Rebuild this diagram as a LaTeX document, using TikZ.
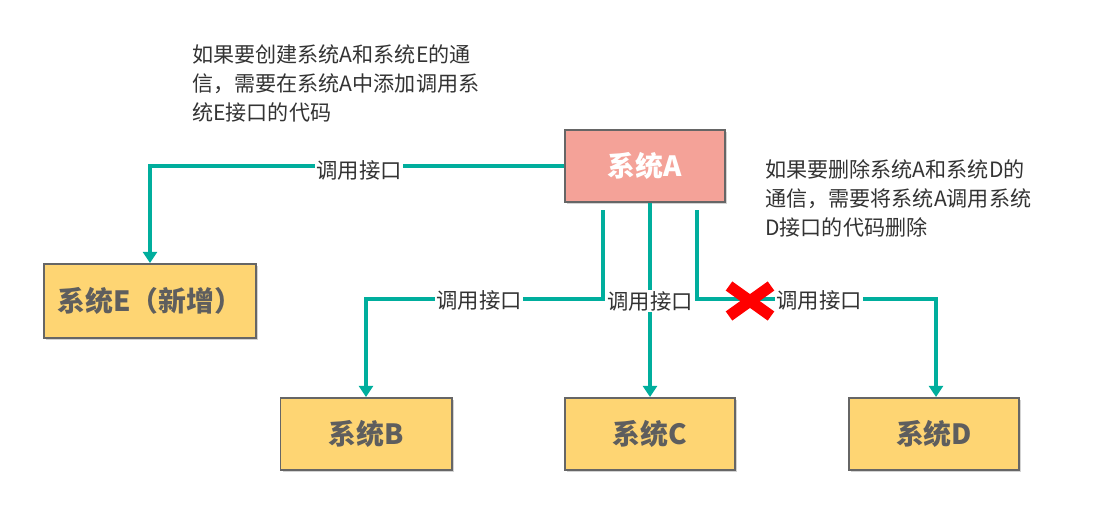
\documentclass[tikz,border=0pt]{standalone}
\usepackage{fontspec}
\setmainfont{Noto Sans CJK SC}
\usetikzlibrary{arrows.meta,shadows}
\definecolor{teal1}{HTML}{00AE9D}
\definecolor{boxA}{HTML}{F4A298}
\definecolor{boxY}{HTML}{FED573}
\definecolor{boxText}{HTML}{5E5E5E}
\definecolor{noteText}{HTML}{333333}
\begin{document}
\begin{tikzpicture}[x=0.025cm,y=-0.025cm,
  sysbox/.style={draw=black!60,line width=1.4pt,fill=boxY,text=boxText,
    font=\fontsize{19.8}{22}\selectfont\bfseries,minimum height=72*0.7113pt,
    drop shadow={shadow xshift=1.5pt,shadow yshift=-1.5pt,opacity=0.35}},
  link/.style={draw=teal1,line width=2.8pt,-{Triangle[width=10pt,length=8pt]}},
  lbl/.style={fill=white,inner sep=1pt,text=noteText,font=\fontsize{15.2}{17}\selectfont},
  note/.style={anchor=north west,align=left,inner sep=0pt,text=noteText,
    font=\fontsize{15}{20.6}\selectfont}]
\useasboundingbox (0,0) rectangle (1096,518);

\node[sysbox,fill=boxA,text=white,minimum width=160*0.7113pt] (A) at (645,166) {系统A};
\node[sysbox,minimum width=212*0.7113pt,minimum height=74*0.7113pt] (E) at (150,301) {系统E（新增）};
\node[sysbox,minimum width=171*0.7113pt] (B) at (366,434) {系统B};
\node[sysbox,minimum width=170*0.7113pt] (C) at (650,434) {系统C};
\node[sysbox,minimum width=170*0.7113pt] (D) at (934,434) {系统D};

\coordinate (aB) at (603,210);
\coordinate (aC) at (650,203);
\coordinate (aD) at (697,210);

\draw[link] (A.west) -| (E.north);
\draw[link] (aB) |- (366,299) -- (B.north);
\draw[link] (aC) -- (aC |- C.north);
\draw[link] (aD) |- (936,299) -- (D.north -| 936,0);

\node[lbl] (lE) at (359,170) {调用接口};
\node[lbl] (lB) at (479,300) {调用接口};
\node[lbl] (lC) at (650,301) {调用接口};
\node[lbl] (lD) at (819,300) {调用接口};

\draw[red,line width=8pt] (729,286) -- (771,316);
\draw[red,line width=8pt] (729,316) -- (771,286);

\node[note] (n1) at (192,44) {如果要创建系统A和系统E的通\\信，需要在系统A中添加调用系\\统E接口的代码};
\node[note] (n2) at (765,159) {如果要删除系统A和系统D的\\通信，需要将系统A调用系统\\D接口的代码删除};
\end{tikzpicture}
\end{document}
